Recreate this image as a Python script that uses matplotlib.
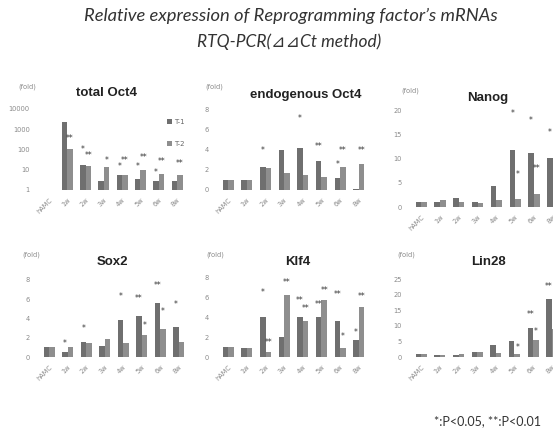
import matplotlib
matplotlib.use("Agg")
import matplotlib.pyplot as plt

# ── Data ─────────────────────────────────────────────────────────────────────
weeks = ["hAMC", "1w", "2w", "3w", "4w", "5w", "6w", "8w"]
series_names = ["T-1", "T-2"]

total_oct4_t1 = [1.0, 2200, 18, 2.7, 5.2, 3.6, 2.8, 2.8]
total_oct4_t2 = [1.0, 100, 15, 13, 5.5, 9.5, 6.3, 5.6]
total_oct4_t1_sig = ["", "", "*", "", "*", "*", "*", ""]
total_oct4_t1_sig_y = [0, 0, 95, 0, 15, 15, 7, 0]
total_oct4_t2_sig = ["", "**", "**", "*", "**", "**", "**", "**"]
total_oct4_t2_sig_y = [0, 330, 48, 30, 30, 38, 27, 21]

endo_oct4_t1 = [1.0, 1.0, 2.3, 4.0, 4.2, 2.9, 1.2, 0.1]
endo_oct4_t2 = [1.0, 1.0, 2.2, 1.7, 1.5, 1.3, 2.3, 2.6]
endo_oct4_t1_sig = ["", "", "*", "", "*", "**", "*", ""]
endo_oct4_t1_sig_y = [0, 0, 3.9, 0, 7.1, 4.3, 2.5, 0]
endo_oct4_t2_sig = ["", "", "", "", "", "", "**", "**"]
endo_oct4_t2_sig_y = [0, 0, 0, 0, 0, 0, 4.0, 4.0]

nanog_t1 = [1.0, 1.0, 1.8, 1.0, 4.3, 11.8, 11.2, 10.2]
nanog_t2 = [1.0, 1.5, 1.0, 0.9, 1.4, 1.6, 2.8, 2.0]
nanog_t1_sig = ["", "", "", "", "", "*", "*", "*"]
nanog_t1_sig_y = [0, 0, 0, 0, 0, 19.4, 18.0, 15.4]
nanog_t2_sig = ["", "", "", "", "", "*", "**", ""]
nanog_t2_sig_y = [0, 0, 0, 0, 0, 6.7, 8.0, 0]

sox2_t1 = [1.0, 0.5, 1.6, 1.1, 3.8, 4.3, 5.6, 3.1]
sox2_t2 = [1.0, 1.0, 1.5, 1.9, 1.5, 2.3, 2.9, 1.6]
sox2_t1_sig = ["", "*", "*", "", "*", "**", "**", "*"]
sox2_t1_sig_y = [0, 1.4, 3.0, 0, 6.3, 6.1, 7.4, 5.4]
sox2_t2_sig = ["", "", "", "", "", "*", "*", ""]
sox2_t2_sig_y = [0, 0, 0, 0, 0, 3.3, 4.7, 0]

klf4_t1 = [1.0, 0.9, 4.0, 2.0, 4.0, 4.0, 3.6, 1.7]
klf4_t2 = [1.0, 0.9, 0.5, 6.2, 3.6, 5.7, 0.9, 5.0]
klf4_t1_sig = ["", "", "*", "", "**", "**", "**", "*"]
klf4_t1_sig_y = [0, 0, 6.5, 0, 5.6, 5.3, 6.2, 2.5]
klf4_t2_sig = ["", "", "**", "**", "**", "**", "*", "**"]
klf4_t2_sig_y = [0, 0, 1.4, 7.5, 4.8, 6.7, 2.0, 6.0]

lin28_t1 = [1.0, 0.7, 0.7, 1.5, 4.0, 5.0, 9.3, 18.5]
lin28_t2 = [1.0, 0.5, 1.0, 1.5, 1.2, 1.0, 5.5, 9.0]
lin28_t1_sig = ["", "", "", "", "", "", "**", "**"]
lin28_t1_sig_y = [0, 0, 0, 0, 0, 0, 13.6, 22.7]
lin28_t2_sig = ["", "", "", "", "", "*", "*", ""]
lin28_t2_sig_y = [0, 0, 0, 0, 0, 3.2, 8.3, 0]

# ── Layout helpers ───────────────────────────────────────────────────────────
W, H = 553, 428
C_T1 = "#6f6f6f"
C_T2 = "#8e8e8e"
TICK_C = "#8a8a8a"
BAR_W = 0.3

fig = plt.figure(figsize=(W / 100, H / 100), dpi=100)
fig.patch.set_facecolor("white")


def px_axes(left, top, width, bottom):
    return fig.add_axes([left / W, 1 - bottom / H, width / W, (bottom - top) / H])


def draw_panel(ax, t1, t2, s1, s1y, s2, s2y, ylim, yticks, log=False):
    x = list(range(len(weeks)))
    ax.bar([i - BAR_W / 2 for i in x], t1, BAR_W, color=C_T1, label=series_names[0],
           linewidth=0)
    ax.bar([i + BAR_W / 2 for i in x], t2, BAR_W, color=C_T2, label=series_names[1],
           linewidth=0)
    for i in x:
        if s1[i]:
            ax.text(i - BAR_W / 2, s1y[i], s1[i], ha="center", va="center",
                    fontsize=5.5, color="#333333")
        if s2[i]:
            ax.text(i + BAR_W / 2, s2y[i], s2[i], ha="center", va="center",
                    fontsize=5.5, color="#333333")
    if log:
        ax.set_yscale("log")
        ax.set_yticks(yticks)
        ax.set_yticklabels([f"{v:g}" for v in yticks])
        ax.minorticks_off()
    else:
        ax.set_yticks(yticks)
    ax.set_ylim(*ylim)
    ax.set_xlim(-0.6, len(weeks) - 0.4)
    ax.set_xticks(x)
    ax.set_xticklabels(weeks, rotation=45, ha="right", rotation_mode="anchor")
    for s in ax.spines.values():
        s.set_visible(False)
    ax.tick_params(axis="both", length=0, labelsize=4.8, labelcolor=TICK_C)
    ax.tick_params(axis="y", pad=6)
    ax.tick_params(axis="x", pad=5)
    ax.patch.set_alpha(0)


# ── Panels ───────────────────────────────────────────────────────────────────
ax1 = px_axes(38, 105.4, 150, 190)
draw_panel(ax1, total_oct4_t1, total_oct4_t2, total_oct4_t1_sig, total_oct4_t1_sig_y,
           total_oct4_t2_sig, total_oct4_t2_sig_y, (1, 15000),
           [1, 10, 100, 1000, 10000], log=True)
ax1.legend(loc="upper right", bbox_to_anchor=(1.02, 0.91), frameon=False, fontsize=5,
           labelcolor="#666666", labelspacing=2.2, handlelength=0.7,
           handleheight=0.7, handletextpad=0.3)

ax2 = px_axes(217, 105, 153, 190)
draw_panel(ax2, endo_oct4_t1, endo_oct4_t2, endo_oct4_t1_sig, endo_oct4_t1_sig_y,
           endo_oct4_t2_sig, endo_oct4_t2_sig_y, (0, 8.5), [0, 2, 4, 6, 8])

ax3 = px_axes(410, 106, 154, 207)
draw_panel(ax3, nanog_t1, nanog_t2, nanog_t1_sig, nanog_t1_sig_y,
           nanog_t2_sig, nanog_t2_sig_y, (0, 21), [0, 5, 10, 15, 20])

ax4 = px_axes(38, 275, 152, 357)
draw_panel(ax4, sox2_t1, sox2_t2, sox2_t1_sig, sox2_t1_sig_y,
           sox2_t2_sig, sox2_t2_sig_y, (0, 8.5), [0, 2, 4, 6, 8])

ax5 = px_axes(217, 272, 153, 357)
draw_panel(ax5, klf4_t1, klf4_t2, klf4_t1_sig, klf4_t1_sig_y,
           klf4_t2_sig, klf4_t2_sig_y, (0, 8.5), [0, 2, 4, 6, 8])

ax6 = px_axes(410, 276, 153, 357)
draw_panel(ax6, lin28_t1, lin28_t2, lin28_t1_sig, lin28_t1_sig_y,
           lin28_t2_sig, lin28_t2_sig_y, (0, 26), [0, 5, 10, 15, 20, 25])

# ── Panel titles and "(fold)" labels ─────────────────────────────────────────
panel_titles = ["total Oct4", "endogenous Oct4", "Nanog", "Sox2", "Klf4", "Lin28"]
title_pos = [(107, 93), (306, 95), (488, 98), (112, 262), (298, 262), (488, 262)]
fold_pos = [(27, 87), (214, 87), (410, 91), (31, 255), (215, 255), (406, 255)]
for name, (tx, ty), (fx, fy) in zip(panel_titles, title_pos, fold_pos):
    fig.text(tx / W, 1 - ty / H, name, ha="center", va="center", fontsize=9.5,
             fontweight="bold", family="Liberation Sans", color="#222222")
    fig.text(fx / W, 1 - fy / H, "(fold)", ha="center", va="center", fontsize=4.8,
             color=TICK_C)

# ── Main title and footnote ──────────────────────────────────────────────────
fig.text(291 / W, 1 - 16 / H, "Relative expression of Reprogramming factor\u2019s mRNAs",
         ha="center", va="center", fontsize=13.2, style="italic",
         family=["Lato", "DejaVu Sans"], color="#333333")
fig.text(289 / W, 1 - 42 / H, "RTQ-PCR(\u22bf\u22bfCt method)",
         ha="center", va="center", fontsize=12.5, style="italic",
         family=["Lato", "DejaVu Sans"], color="#333333")
fig.text(487 / W, 1 - 421 / H, "*:P<0.05, **:P<0.01", ha="center", va="center",
         fontsize=9, family=["Lato", "DejaVu Sans"], color="#333333")

fig.savefig("out.png", dpi=100)
